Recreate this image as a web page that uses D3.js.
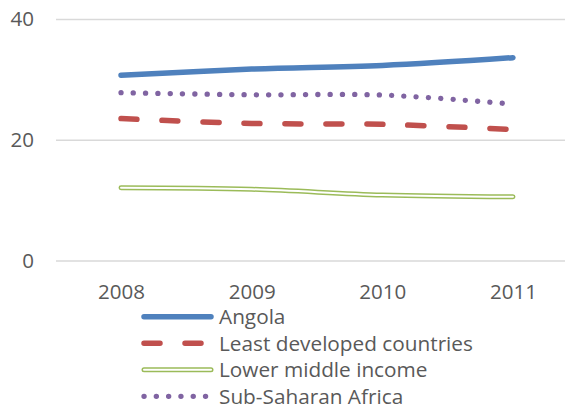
<!DOCTYPE html>
<html><head><meta charset="utf-8">
<script src="https://cdn.jsdelivr.net/npm/d3@7"></script>
<style>
html,body{margin:0;padding:0;background:#fff;}
svg{display:block;font-family:"Open Sans", sans-serif;}
</style></head>
<body>
<svg id="chart" width="565" height="404"></svg>
<script>
const years = ["2008","2009","2010","2011"];
const seriesNames = ["Angola","Least developed countries","Lower middle income","Sub-Saharan Africa"];
const angola = [30.7, 31.7, 32.3, 33.6];
const leastDeveloped = [23.5, 22.7, 22.55, 21.7];
const lowerMiddle = [12.05, 11.8, 10.85, 10.55];
const subSaharan = [27.8, 27.45, 27.4, 25.9];
const yTicks = [0, 20, 40];

const FONT = "'Open Sans', Lato, sans-serif";
const svg = d3.select("#chart");
const x = d3.scalePoint().domain(years).range([55.7, 578.3]).padding(0.5);
const y = d3.scaleLinear().domain([0, 40]).range([260.5, 19]);

// fit a font size so that text has the target width
function fitSize(sel, target) {
  const w = sel.node().getComputedTextLength();
  const fs = parseFloat(sel.attr("font-size"));
  sel.attr("font-size", (fs * target / w).toFixed(2));
}

// grid + y labels
const yAxis = d3.axisLeft(y).tickValues(yTicks).tickSize(-(578.3 - 56)).tickPadding(22).tickFormat(d3.format("d"));
const gy = svg.append("g").attr("transform", "translate(56,0)").call(yAxis);
gy.select(".domain").remove();
gy.selectAll(".tick line").attr("stroke", "#d9d9d9").attr("stroke-width", 1.5);
gy.selectAll(".tick text").attr("fill", "#595959").attr("font-size", 20).attr("font-family", FONT);

// x labels
const xAxis = d3.axisBottom(x).tickSize(0).tickPadding(24);
const gx = svg.append("g").attr("transform", "translate(0,260.5)").call(xAxis);
gx.select(".domain").remove();
gx.selectAll(".tick text").attr("fill", "#595959").attr("font-size", 20).attr("font-family", FONT);
const firstX = gx.select(".tick text");
fitSize(firstX, 47);
const xfs = firstX.attr("font-size");
gx.selectAll(".tick text").attr("font-size", xfs);
gy.selectAll(".tick text").attr("font-size", xfs);

const line = d3.line().x((d, i) => x(years[i])).y(d => y(d)).curve(d3.curveCatmullRom.alpha(0.5));

const styles = [
  {data: angola, layers: [{stroke: "#4f81bd", w: 5.5, dash: null}]},
  {data: leastDeveloped, layers: [{stroke: "#c0504d", w: 5.5, dash: "16,25"}]},
  {data: lowerMiddle, layers: [{stroke: "#9bbb59", w: 5, dash: null}, {stroke: "#ffffff", w: 2, dash: null}]},
  {data: subSaharan, layers: [{stroke: "#8064a2", w: 5.3, dash: "0.1,12.2"}]}
];

const plot = svg.append("g");
styles.forEach(s => {
  s.layers.forEach(l => {
    plot.append("path").datum(s.data).attr("d", line)
      .attr("fill", "none").attr("stroke", l.stroke).attr("stroke-width", l.w)
      .attr("stroke-linecap", "round").attr("stroke-linejoin", "round")
      .attr("stroke-dasharray", l.dash);
  });
});

// legend
const legend = svg.append("g");
const legY = [316.7, 343.3, 369.8, 396.3];
const texts = [];
seriesNames.forEach((name, i) => {
  const g = legend.append("g").attr("transform", `translate(0,${legY[i]})`);
  styles[i].layers.forEach(l => {
    g.append("line").attr("x1", 144).attr("x2", 211).attr("y1", 0).attr("y2", 0)
      .attr("stroke", l.stroke).attr("stroke-width", l.w)
      .attr("stroke-linecap", "round").attr("stroke-dasharray", l.dash);
  });
  texts.push(g.append("text").attr("x", 219).attr("y", 0).attr("dy", "0.36em")
    .attr("fill", "#595959").attr("font-size", 20).attr("font-family", FONT).text(name));
});
fitSize(texts[1], 254);
const lfs = texts[1].attr("font-size");
texts.forEach(t => t.attr("font-size", lfs));
</script>
</body></html>
